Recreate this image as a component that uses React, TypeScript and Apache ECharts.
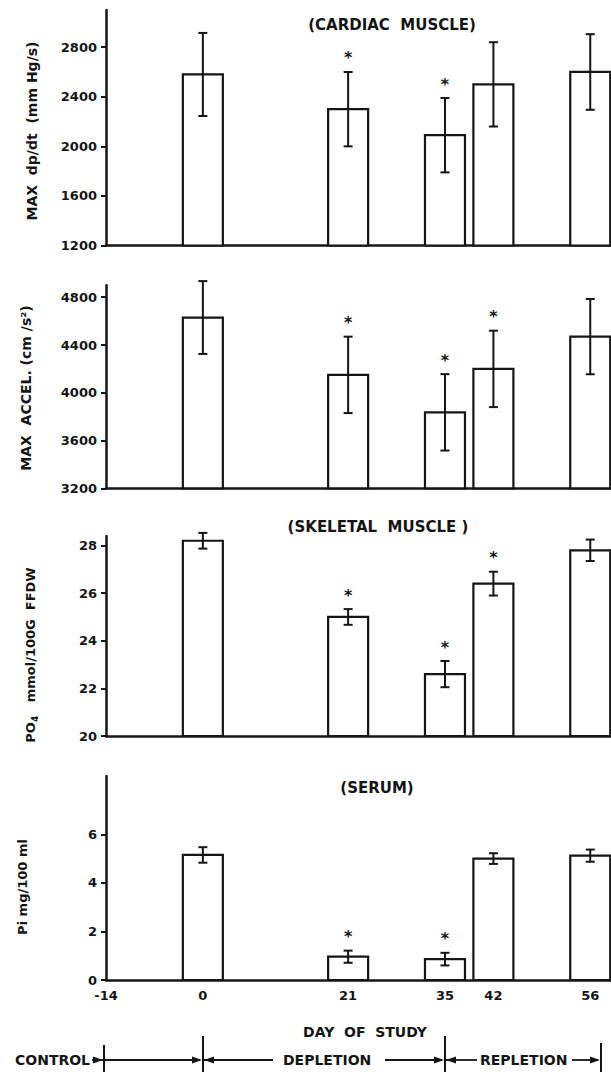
import React, { useEffect, useRef } from "react";
import * as echarts from "echarts";

const days = [0, 21, 35, 42, 56];
const xTickLabels = [-14, 0, 21, 35, 42, 56];

const dpdtMean = [2580, 2300, 2090, 2500, 2600];
const dpdtErr = [335, 300, 300, 340, 305];
const dpdtSig = [0, 1, 1, 0, 0];
const dpdtTicks = [1200, 1600, 2000, 2400, 2800];

const accelMean = [4630, 4150, 3836, 4200, 4470];
const accelErr = [305, 320, 320, 320, 315];
const accelSig = [0, 1, 1, 1, 0];
const accelTicks = [3200, 3600, 4000, 4400, 4800];

const po4Mean = [28.2, 25.0, 22.6, 26.4, 27.8];
const po4Err = [0.33, 0.33, 0.55, 0.5, 0.45];
const po4Sig = [0, 1, 1, 1, 0];
const po4Ticks = [20, 22, 24, 26, 28];

const piMean = [5.15, 0.96, 0.86, 5.0, 5.12];
const piErr = [0.32, 0.25, 0.26, 0.22, 0.25];
const piSig = [0, 1, 1, 0, 0];
const piTicks = [0, 2, 4, 6];

const INK = "#151515";
const FONT = "DejaVu Sans";

const panels = [
  { top: 10, height: 235.5, min: 1200, max: 3100, interval: 400, ticks: dpdtTicks, mean: dpdtMean, err: dpdtErr, sig: dpdtSig },
  { top: 285.3, height: 203, min: 3200, max: 4900, interval: 400, ticks: accelTicks, mean: accelMean, err: accelErr, sig: accelSig },
  { top: 536, height: 200, min: 20, max: 28.4, interval: 2, ticks: po4Ticks, mean: po4Mean, err: po4Err, sig: po4Sig },
  { top: 776, height: 204, min: 0, max: 8.4, interval: 2, ticks: piTicks, mean: piMean, err: piErr, sig: piSig },
];

function arrowRight(tipX: number, y: number) {
  return { type: "polygon", shape: { points: [[tipX, y], [tipX - 10, y - 3.5], [tipX - 10, y + 3.5]] }, style: { fill: INK } };
}
function arrowLeft(tipX: number, y: number) {
  return { type: "polygon", shape: { points: [[tipX, y], [tipX + 10, y - 3.5], [tipX + 10, y + 3.5]] }, style: { fill: INK } };
}
function hline(x1: number, x2: number, y: number) {
  return { type: "line", shape: { x1, y1: y, x2, y2: y }, style: { stroke: INK, lineWidth: 1.8 } };
}
function vline(x: number, y1: number, y2: number) {
  return { type: "line", shape: { x1: x, y1, x2: x, y2 }, style: { stroke: INK, lineWidth: 2 } };
}

export default function App() {
  const ref = useRef<HTMLDivElement>(null);
  useEffect(() => {
    if (!ref.current) return;
    const chart = echarts.init(ref.current, null, { renderer: "svg" });

    const plain = (v: number) => String(v);
    const grids = panels.map((p) => ({ left: 106, right: 0, top: p.top, height: p.height }));
    const xAxes = panels.map((p, i) => ({
      type: "value",
      gridIndex: i,
      min: -14,
      max: 59,
      axisLine: { show: true, onZero: false, lineStyle: { color: INK, width: 2.5 } },
      axisTick: { show: false },
      splitLine: { show: false },
      axisLabel: i === 3
        ? { show: true, customValues: xTickLabels, formatter: plain, margin: 9, color: INK, fontFamily: FONT, fontWeight: "bold", fontSize: 13 }
        : { show: false },
    }));
    const yAxes = panels.map((p, i) => ({
      type: "value",
      gridIndex: i,
      min: p.min,
      max: p.max,
      interval: p.interval,
      axisLine: { show: true, onZero: false, lineStyle: { color: INK, width: 2.5 } },
      axisTick: { show: true, customValues: p.ticks, length: 5, lineStyle: { color: INK, width: 2 } },
      splitLine: { show: false },
      axisLabel: { show: true, customValues: p.ticks, formatter: plain, margin: 9, color: INK, fontFamily: FONT, fontWeight: "bold", fontSize: 13 },
    }));

    const series = panels.map((p, i) => ({
      type: "custom",
      xAxisIndex: i,
      yAxisIndex: i,
      clip: false,
      data: days.map((d, k) => [d, p.mean[k], p.err[k], p.sig[k]]),
      renderItem: (params: any, api: any) => {
        const x = api.value(0);
        const y = api.value(1);
        const e = api.value(2);
        const s = api.value(3);
        const base = api.coord([x, p.min]);
        const top = api.coord([x, y]);
        const hi = api.coord([x, y + e]);
        const lo = api.coord([x, y - e]);
        const w = 40;
        const cx = top[0];
        const children: any[] = [
          { type: "rect", shape: { x: cx - w / 2, y: top[1], width: w, height: base[1] - top[1] }, style: { fill: "#fff", stroke: INK, lineWidth: 2.2 } },
          { type: "line", shape: { x1: cx, y1: hi[1], x2: cx, y2: lo[1] }, style: { stroke: INK, lineWidth: 2 } },
          { type: "line", shape: { x1: cx - 4.5, y1: hi[1], x2: cx + 4.5, y2: hi[1] }, style: { stroke: INK, lineWidth: 2 } },
          { type: "line", shape: { x1: cx - 4.5, y1: lo[1], x2: cx + 4.5, y2: lo[1] }, style: { stroke: INK, lineWidth: 2 } },
        ];
        if (s) {
          children.push({
            type: "text",
            x: cx,
            y: hi[1] - 14,
            style: { text: "*", fill: INK, fontFamily: FONT, fontWeight: "bold", fontSize: 16, align: "center", verticalAlign: "middle" },
          });
        }
        return { type: "group", children };
      },
    }));

    const textStyle = (text: string, size = 14) => ({ text, fill: INK, fontFamily: FONT, fontWeight: "bold", fontSize: size, align: "center", verticalAlign: "middle" });

    const graphic: any[] = [
      { type: "text", x: 392, y: 25, style: textStyle("(CARDIAC  MUSCLE)", 15) },
      { type: "text", x: 378, y: 527, style: textStyle("(SKELETAL  MUSCLE )", 15) },
      { type: "text", x: 377, y: 788, style: textStyle("(SERUM)", 15) },
      { type: "text", x: 32, y: 131, rotation: Math.PI / 2, style: textStyle("MAX  dp/dt  (mm Hg/s)", 14) },
      { type: "text", x: 26, y: 388, rotation: Math.PI / 2, style: textStyle("MAX  ACCEL. (cm /s²)", 14) },
      {
        type: "text", x: 30, y: 655, rotation: Math.PI / 2,
        style: {
          ...textStyle("PO{sub|4}   mmol/100G  FFDW", 13),
          lineHeight: 18,
          rich: { sub: { fontFamily: FONT, fontWeight: "bold", fontSize: 9, lineHeight: 9, verticalAlign: "bottom", fill: INK } },
        },
      },
      { type: "text", x: 22, y: 887, rotation: Math.PI / 2, style: textStyle("Pi mg/100 ml", 13) },
      { type: "text", x: 365, y: 1032, style: textStyle("DAY  OF  STUDY", 14) },
      { type: "text", x: 15, y: 1060, style: { ...textStyle("CONTROL", 14), align: "left" } },
      { type: "text", x: 283, y: 1060, style: { ...textStyle("DEPLETION", 14), align: "left" } },
      { type: "text", x: 480, y: 1060, style: { ...textStyle("REPLETION", 14), align: "left" } },
      hline(92, 103, 1060), arrowRight(103, 1060),
      vline(104, 1045, 1072),
      hline(104, 200, 1060), arrowRight(202, 1060),
      vline(203, 1036, 1072),
      hline(204, 273, 1060), arrowLeft(204, 1060),
      hline(385, 442, 1060), arrowRight(444, 1060),
      vline(445, 1036, 1072),
      hline(446, 477, 1060), arrowLeft(446, 1060),
      hline(572, 598, 1060), arrowRight(600, 1060),
      vline(601, 1043, 1072),
    ];

    chart.setOption({
      animation: false,
      backgroundColor: "#fff",
      grid: grids,
      xAxis: xAxes,
      yAxis: yAxes,
      series,
      graphic,
    });
    return () => chart.dispose();
  }, []);
  return <div ref={ref} style={{ position: "fixed", left: 0, top: 0, width: 611, height: 1072, background: "#fff" }} />;
}
